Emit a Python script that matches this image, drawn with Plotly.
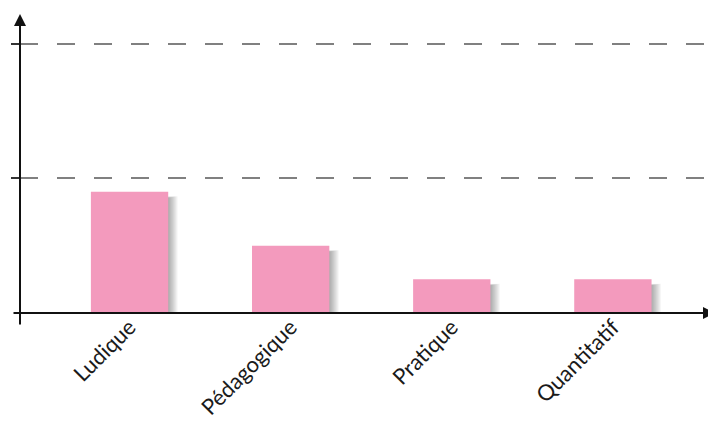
import plotly.graph_objects as go

categories = ["Ludique", "Pédagogique", "Pratique", "Quantitatif"]
values = [9.0, 5.0, 2.5, 2.5]
grid_values = [10, 20]

bar_color = "#F39ABD"
bar_width = 0.48

fig = go.Figure()

# soft shadow layers (right and below each bar)
xs = list(range(len(categories)))
shapes = []
for k in range(9):
    spread = 0.0065 * (k + 1)
    for i, v in zip(xs, values):
        shapes.append(dict(
            type="rect", xref="x", yref="y", layer="below",
            x0=i - bar_width / 2 + 0.06, x1=i + bar_width / 2 + spread,
            y0=-0.1 - spread * 11, y1=v - 0.45 + spread * 2,
            line=dict(width=0), fillcolor="rgba(0,0,0,0.04)",
        ))

fig.add_trace(go.Bar(
    x=xs, y=values, width=bar_width,
    marker=dict(color=bar_color, line=dict(width=0)),
    hoverinfo="skip",
))

annotations = [
    # y axis with arrow
    dict(xref="paper", yref="paper", x=0, y=1.0, ax=0, ay=312, axref="pixel", ayref="pixel",
         showarrow=True, arrowhead=2, arrowsize=1.2, arrowwidth=2, arrowcolor="#111", text=""),
    # x axis with arrow
    dict(xref="paper", yref="y", x=1.0, y=0, ax=-704, ay=0,
         showarrow=True, arrowhead=2, arrowsize=1.2, arrowwidth=2, arrowcolor="#111", text=""),
]

fig.update_layout(
    width=708, height=426,
    margin=dict(l=12, r=0, t=6, b=121),
    paper_bgcolor="white", plot_bgcolor="white",
    showlegend=False,
    shapes=shapes,
    annotations=annotations,
    xaxis=dict(
        tickmode="array", tickvals=xs, ticktext=categories,
        range=[-0.68, 3.64], tickangle=-45, automargin=False,
        showgrid=False, zeroline=False, showline=False, ticks="",
        ticklabelstandoff=-4,
        tickfont=dict(family="Lato", size=22, color="#1a1a1a"),
    ),
    yaxis=dict(
        range=[0, 22.2], tickvals=grid_values, showticklabels=False, automargin=False,
        showgrid=True, gridcolor="#808080", gridwidth=1.6, griddash="18px,19px",
        ticks="outside", ticklen=8, tickwidth=1.5, tickcolor="#333",
        zeroline=False, showline=False,
    ),
)

fig.write_html("out.html")
